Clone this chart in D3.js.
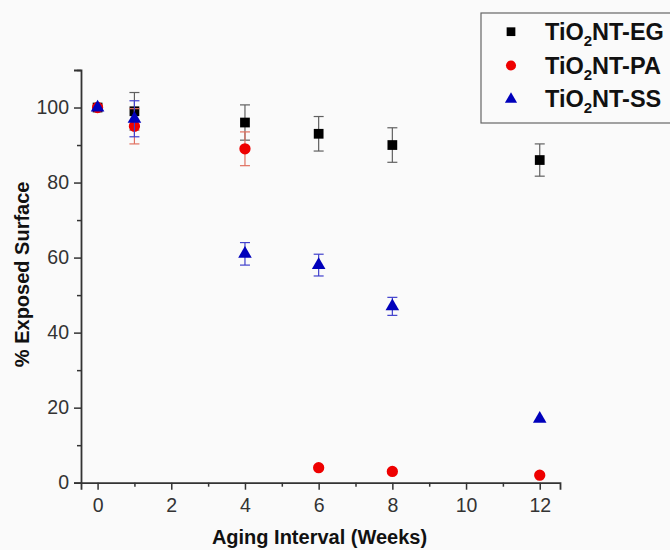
<!DOCTYPE html>
<html>
<head>
<meta charset="utf-8">
<script src="https://cdn.jsdelivr.net/npm/d3@7"></script>
<style>
  html, body { margin: 0; padding: 0; background: #fafafa; }
  svg { display: block; font-family: "Liberation Sans", Arial, sans-serif; }
</style>
</head>
<body>
<svg id="chart" width="670" height="550"></svg>
<script>
// --- data ---
const weeks = [0, 1, 4, 6, 8, 12];
const egValues = [100, 99, 96, 93, 90, 86];
const egErrors = [0, 5, 4.7, 4.6, 4.6, 4.3];
const paValues = [100, 95, 89, 4, 3, 2];
const paErrors = [0, 4.7, 4.5, 0, 0, 0];
const ssValues = [100, 97, 61, 58, 47, 17];
const ssErrors = [0, 4.8, 3, 2.9, 2.4, 0];
const xTicks = [0, 2, 4, 6, 8, 10, 12];
const yTicks = [0, 20, 40, 60, 80, 100];

const series = [
  { name: "EG", values: egValues, errors: egErrors, shape: "square", fill: "#000000", errColor: "#606060" },
  { name: "PA", values: paValues, errors: paErrors, shape: "circle", fill: "#ee0000", errColor: "#e07060" },
  { name: "SS", values: ssValues, errors: ssErrors, shape: "triangle", fill: "#0000bb", errColor: "#4040cc" }
];

const svg = d3.select("#chart");
const axisColor = "#333333";

const x = d3.scaleLinear().domain([-0.45, 12.55]).range([81, 560]);
const y = d3.scaleLinear().domain([0, 110]).range([482.7, 70]);

// axes
const xAxis = svg.append("g").attr("transform", `translate(0, ${y(0)})`)
  .call(d3.axisBottom(x).tickValues(xTicks).tickSize(7).tickPadding(8).tickFormat(d3.format("d")));
const xMinor = svg.append("g").attr("transform", `translate(0, ${y(0)})`)
  .call(d3.axisBottom(x).tickValues([1, 3, 5, 7, 9, 11]).tickSize(4).tickFormat(""));
const yAxis = svg.append("g").attr("transform", `translate(${x.range()[0]}, 0)`)
  .call(d3.axisLeft(y).tickValues(yTicks).tickSize(7).tickPadding(5).tickFormat(d3.format("d")));
const yMinor = svg.append("g").attr("transform", `translate(${x.range()[0]}, 0)`)
  .call(d3.axisLeft(y).tickValues([10, 30, 50, 70, 90, 110]).tickSize(4).tickFormat(""));

[xAxis, xMinor, yAxis, yMinor].forEach(g => {
  g.select(".domain").attr("stroke", axisColor).attr("stroke-width", 1.8);
  g.selectAll(".tick line").attr("stroke", axisColor).attr("stroke-width", 1.5);
  g.selectAll(".tick text").attr("fill", "#333").style("font-size", "19.5px");
});
xMinor.select(".domain").remove();
yMinor.select(".domain").remove();

// axis titles
svg.append("text")
  .attr("x", (x.range()[0] + x.range()[1]) / 2 - 1)
  .attr("y", 544)
  .attr("text-anchor", "middle")
  .style("font-size", "20px").style("font-weight", "bold").attr("fill", "#111")
  .text("Aging Interval (Weeks)");

svg.append("text")
  .attr("transform", `translate(29, ${(y(0) + y(110)) / 2 - 2}) rotate(-90)`)
  .attr("text-anchor", "middle")
  .style("font-size", "20px").style("font-weight", "bold").attr("fill", "#111")
  .text("% Exposed Surface");

// markers
const symbolFor = shape => shape === "square" ? d3.symbolSquare : shape === "circle" ? d3.symbolCircle : d3.symbolTriangle;
const sizeFor = shape => shape === "square" ? 95 : shape === "circle" ? 100 : 80;

series.forEach(s => {
  const pts = weeks.map((w, i) => ({ w, v: s.values[i], e: s.errors[i] }));
  const g = svg.append("g");

  const eb = g.selectAll(".err").data(pts.filter(p => p.e > 0)).enter().append("g").attr("class", "err")
    .attr("stroke", s.errColor).attr("stroke-width", 1.2);
  eb.append("line").attr("x1", d => x(d.w)).attr("x2", d => x(d.w))
    .attr("y1", d => y(d.v + d.e)).attr("y2", d => y(d.v - d.e));
  eb.append("line").attr("x1", d => x(d.w) - 5).attr("x2", d => x(d.w) + 5)
    .attr("y1", d => y(d.v + d.e)).attr("y2", d => y(d.v + d.e));
  eb.append("line").attr("x1", d => x(d.w) - 5).attr("x2", d => x(d.w) + 5)
    .attr("y1", d => y(d.v - d.e)).attr("y2", d => y(d.v - d.e));

  g.selectAll(".pt").data(pts).enter().append("path").attr("class", "pt")
    .attr("transform", d => `translate(${x(d.w)}, ${y(d.v)})`)
    .attr("d", d3.symbol().type(symbolFor(s.shape)).size(sizeFor(s.shape)))
    .attr("fill", s.fill);
});

// legend
const legend = svg.append("g");
legend.append("rect").attr("x", 481).attr("y", 13).attr("width", 195).attr("height", 110)
  .attr("fill", "#fafafa").attr("stroke", "#666").attr("stroke-width", 1.2);

series.forEach((s, i) => {
  const cy = 31.7 + i * 33.8;
  legend.append("path")
    .attr("transform", `translate(511, ${cy})`)
    .attr("d", d3.symbol().type(symbolFor(s.shape)).size(sizeFor(s.shape) * 0.8))
    .attr("fill", s.fill);
  const t = legend.append("text").attr("x", 545).attr("y", cy + 8)
    .style("font-size", "23.5px").style("font-weight", "bold").attr("fill", "#111");
  t.append("tspan").text("TiO");
  t.append("tspan").attr("dy", 6).style("font-size", "15px").text("2");
  t.append("tspan").attr("dy", -6).text("NT-" + s.name);
});
</script>
</body>
</html>
